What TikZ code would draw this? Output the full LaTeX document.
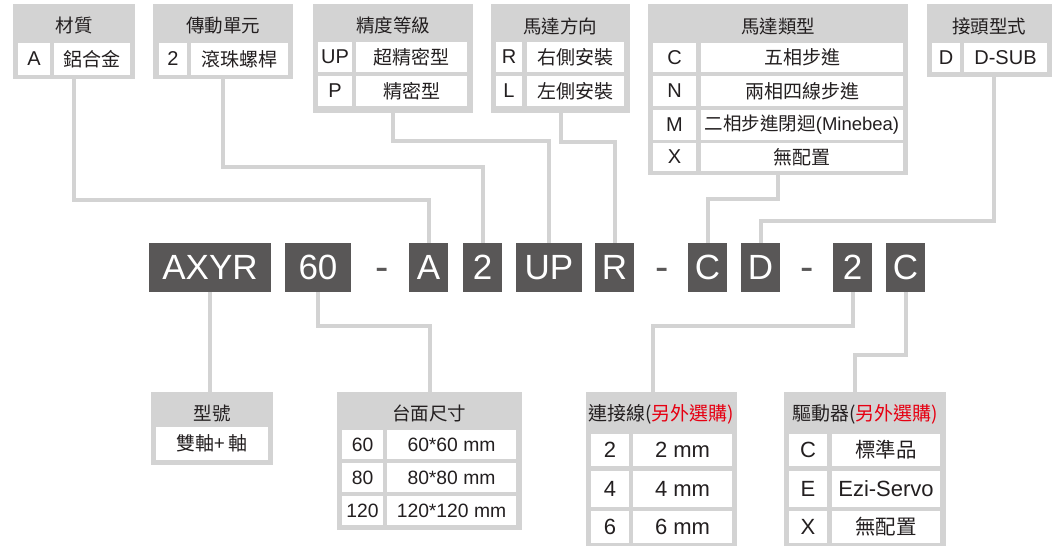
\documentclass[tikz,border=0pt]{standalone}
\usepackage{fontspec}
\setmainfont{Liberation Sans}
\newfontfamily\cjk{Noto Sans CJK TC}
\definecolor{panelgray}{HTML}{D3D3D3}
\definecolor{codegray}{HTML}{595757}
\definecolor{inkgray}{HTML}{231F20}
\definecolor{optred}{HTML}{E60012}

% box from its corners: name, style, x1, y1, x2, y2, text
\newcommand{\pbox}[7]{%
  \node[#2, minimum width={(#5-#3)*1pt}, minimum height={(#6-#4)*1pt}] (#1) at ({(#3+#5)/2},{(#4+#6)/2}) {#7};}

\begin{document}
\begin{tikzpicture}[x=1pt, y=-1pt,
    panel/.style={fill=panelgray, inner sep=0pt, outer sep=0pt},
    cell/.style={fill=white, inner sep=0pt, outer sep=0pt, text=inkgray, font=\fontsize{20}{20}\selectfont},
    cjkcell/.style={cell, font=\fontsize{19}{19}\cjk},
    midcell/.style={cell, font=\fontsize{19.3}{19}\selectfont},
    bigcell/.style={cell, font=\fontsize{22}{22}\selectfont},
    bigcjkcell/.style={cell, font=\fontsize{20.5}{20}\cjk},
    head/.style={inner sep=0pt, text=inkgray, font=\fontsize{18.5}{18}\cjk},
    code/.style={fill=codegray, inner sep=0pt, outer sep=0pt, text=white, font=\fontsize{35}{35}\selectfont},
    sepmark/.style={inner sep=0pt, anchor=base, text=codegray, font=\fontsize{40}{40}\selectfont},
    wire/.style={draw=panelgray, line width=4pt}]
    \useasboundingbox (0,0) rectangle (1055,547);

    % Top tables
    \pbox{mat}{panel}{13}{4}{135}{79}{}
    \node[head] (matT) at (74,26) {材質};
    \pbox{matA}{cell}{18}{43}{50}{75}{A}
    \pbox{matAv}{cjkcell}{54}{43}{130}{75}{鋁合金}

    \pbox{drv}{panel}{153}{4}{293}{79}{}
    \node[head] (drvT) at (223,26) {傳動單元};
    \pbox{drv2}{cell}{159}{43}{187}{75}{2}
    \pbox{drv2v}{cjkcell}{191}{43}{288}{75}{滾珠螺桿}

    \pbox{prec}{panel}{313}{4}{473}{113}{}
    \node[head] (precT) at (393,26) {精度等級};
    \pbox{precUP}{cell}{318}{42}{352}{72}{UP}
    \pbox{precUPv}{cjkcell}{356}{42}{467}{72}{超精密型}
    \pbox{precP}{cell}{318}{76}{352}{106}{P}
    \pbox{precPv}{cjkcell}{356}{76}{467}{106}{精密型}

    \pbox{dir}{panel}{491}{4}{630}{113}{}
    \node[head] (dirT) at (560,26) {馬達方向};
    \pbox{dirR}{cell}{496}{42}{522}{72}{R}
    \pbox{dirRv}{cjkcell}{527}{42}{624}{72}{右側安裝}
    \pbox{dirL}{cell}{496}{76}{522}{106}{L}
    \pbox{dirLv}{cjkcell}{527}{76}{624}{106}{左側安裝}

    \pbox{mtype}{panel}{648}{4}{908}{175}{}
    \node[head] (mtypeT) at (778,26) {馬達類型};
    \pbox{mtypeC}{cell}{653}{43}{696}{72}{C}
    \pbox{mtypeCv}{cjkcell}{701}{43}{903}{72}{五相步進}
    \pbox{mtypeN}{cell}{653}{76}{696}{106}{N}
    \pbox{mtypeNv}{cjkcell}{701}{76}{903}{106}{兩相四線步進}
    \pbox{mtypeM}{cell}{653}{110}{696}{140}{M}
    \pbox{mtypeMv}{cell, font=\fontsize{18.5}{18}\selectfont}{701}{110}{903}{140}{{\cjk 二相步進閉迴}(Minebea)}
    \pbox{mtypeX}{cell}{653}{143}{696}{171}{X}
    \pbox{mtypeXv}{cjkcell}{701}{143}{903}{171}{無配置}

    \pbox{plug}{panel}{927}{4}{1052}{77}{}
    \node[head] (plugT) at (989,26) {接頭型式};
    \pbox{plugD}{cell}{932}{43}{960}{72}{D}
    \pbox{plugDv}{cell}{964}{43}{1047}{72}{D-SUB}

    % Model code
    \pbox{cAXYR}{code}{149}{243}{271}{292}{AXYR}
    \pbox{c60}{code}{285}{243}{351}{292}{60}
    \node[sepmark] (sepA) at (382,280) {-};
    \pbox{cA}{code}{409}{243}{448}{292}{A}
    \pbox{c2}{code}{463}{243}{502}{292}{2}
    \pbox{cUP}{code}{516}{243}{582}{292}{UP}
    \pbox{cR}{code}{595}{243}{634}{292}{R}
    \node[sepmark] (sepB) at (662,280) {-};
    \pbox{cC}{code}{688}{243}{727}{292}{C}
    \pbox{cD}{code}{741}{243}{780}{292}{D}
    \node[sepmark] (sepC) at (807,280) {-};
    \pbox{c2b}{code}{833}{243}{872}{292}{2}
    \pbox{cCb}{code}{886}{243}{925}{292}{C}

    % Bottom tables
    \pbox{model}{panel}{151}{392}{273}{465}{}
    \node[head] (modelT) at (212,413) {型號};
    \pbox{modelv}{cjkcell}{156}{427}{268}{460}{雙軸+ 軸}

    \pbox{size}{panel}{337}{392}{522}{530}{}
    \node[head] (sizeT) at (429,413) {台面尺寸};
    \pbox{size60}{midcell}{342}{430}{383}{459}{60}
    \pbox{size60v}{midcell}{387}{430}{516}{459}{60*60 mm}
    \pbox{size80}{midcell}{342}{463}{383}{492}{80}
    \pbox{size80v}{midcell}{387}{463}{516}{492}{80*80 mm}
    \pbox{size120}{midcell}{342}{496}{383}{525}{120}
    \pbox{size120v}{midcell}{387}{496}{516}{525}{120*120 mm}

    \pbox{cable}{panel}{586}{392}{737}{546}{}
    \node[head, font=\fontsize{19}{19}\cjk] (cableT) at (661,414) {連接線(\textcolor{optred}{另外選購)}};
    \pbox{cable2}{bigcell}{591}{434}{629}{466}{2}
    \pbox{cable2v}{bigcell}{633}{434}{732}{466}{2 mm}
    \pbox{cable4}{bigcell}{591}{471}{629}{507}{4}
    \pbox{cable4v}{bigcell}{633}{471}{732}{507}{4 mm}
    \pbox{cable6}{bigcell}{591}{511}{629}{543}{6}
    \pbox{cable6v}{bigcell}{633}{511}{732}{543}{6 mm}

    \pbox{driver}{panel}{784}{392}{946}{546}{}
    \node[head, font=\fontsize{19}{19}\cjk] (driverT) at (865,414) {驅動器(\textcolor{optred}{另外選購)}};
    \pbox{driverC}{bigcell}{789}{434}{827}{466}{C}
    \pbox{driverCv}{bigcjkcell}{832}{434}{940}{466}{標準品}
    \pbox{driverE}{bigcell}{789}{471}{827}{507}{E}
    \pbox{driverEv}{bigcell}{832}{471}{940}{507}{Ezi-Servo}
    \pbox{driverX}{bigcell}{789}{511}{827}{543}{X}
    \pbox{driverXv}{bigcjkcell}{832}{511}{940}{543}{無配置}

    % Connections
    \draw[wire] (mat.south) -- ++(0,121) -| (cA.north);
    \draw[wire] (drv.south) -- ++(0,88) -| (c2.north);
    \draw[wire] (prec.south) -- ++(0,28) -| (cUP.north);
    \draw[wire] (dir.south) -- ++(0,29) -| (cR.north);
    \draw[wire] (mtype.south) -- ++(0,24) -| (cC.north);
    \draw[wire] ([xshift=4pt]plug.south) -- ++(0,144) -| (cD.north);
    \draw[wire] (cAXYR.south) -- (cAXYR.south |- model.north);
    \draw[wire] (c60.south) -- ++(0,34) -| (size.north);
    \draw[wire] (c2b.south) -- ++(0,34) -| ([xshift=-9pt]cable.north);
    \draw[wire] (cCb.south) -- ++(0,63) -| ([xshift=-10pt]driver.north);
\end{tikzpicture}
\end{document}
